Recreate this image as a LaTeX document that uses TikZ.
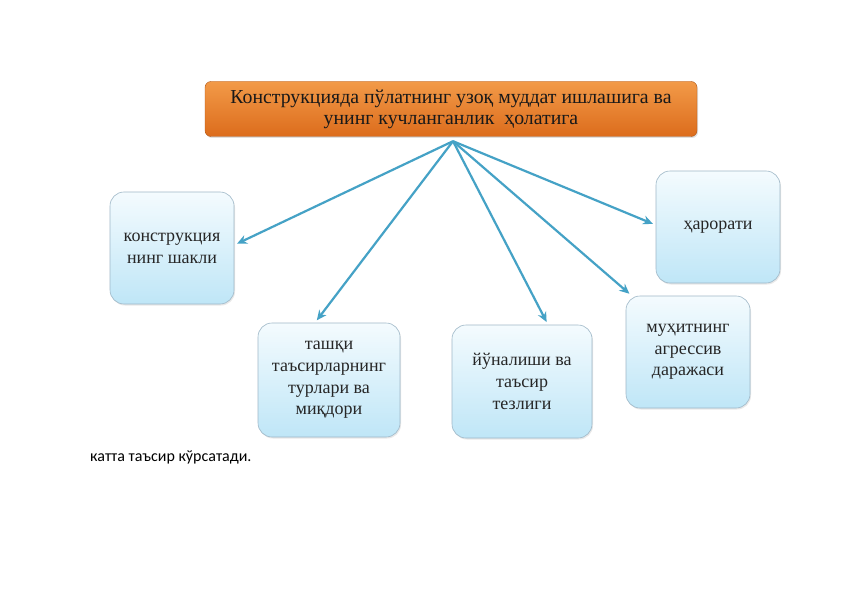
\documentclass[tikz,border=0pt]{standalone}
\usepackage{fontspec}
\setmainfont{Liberation Serif}
\newfontfamily\noteFont{Carlito}
\usetikzlibrary{arrows.meta,shadows}
\definecolor{arrowc}{HTML}{45A2C6}
\definecolor{boxedge}{HTML}{9FB8C8}
\definecolor{boxtop}{HTML}{F4FBFE}
\definecolor{boxbot}{HTML}{BFE6F7}
\definecolor{orgtop}{HTML}{F29A48}
\definecolor{orgbot}{HTML}{DC6C1C}
\tikzset{
  leafbox/.style={draw=boxedge, line width=0.6pt, rounded corners=14pt,
    top color=boxtop, bottom color=boxbot, align=center, inner sep=2pt,
    font=\fontsize{18}{21.7}\selectfont, text=black!85,
    drop shadow={opacity=0.18, shadow xshift=1pt, shadow yshift=-1.5pt}},
  headbox/.style={draw=orgbot!80!black, line width=0.4pt, rounded corners=6pt,
    top color=orgtop, bottom color=orgbot, align=center,
    font=\fontsize{19.8}{21}\selectfont, text=black!90,
    minimum width=492pt, minimum height=55pt, inner sep=0pt,
    drop shadow={opacity=0.25, shadow xshift=1pt, shadow yshift=-1.5pt}},
  link/.style={draw=arrowc, line width=2.2pt, -{Stealth[length=10pt,width=9pt]}, shorten >=3pt}
}
\begin{document}
\begin{tikzpicture}[x=1pt,y=-1pt]
\useasboundingbox (0,0) rectangle (842,596);
\fill[white] (0,0) rectangle (842,596);
\node[headbox] (top) at (451,109) {Конструкцияда пўлатнинг узоқ муддат ишлашига ва\\унинг кучланганлик \ ҳолатига};
\node[leafbox, minimum width=124pt, minimum height=112pt] (k) at (172,248) {конструкция\\нинг шакли};
\node[leafbox, minimum width=124pt, minimum height=112pt] (h) at (718,227) {ҳарорати};
\node[leafbox, minimum width=124pt, minimum height=112pt] (m) at (688,352) {муҳитнинг\\агрессив\\даражаси};
\node[leafbox, minimum width=142pt, minimum height=114pt] (t) at (329,380) {ташқи\\таъсирларнинг\\турлари ва\\миқдори};
\node[leafbox, minimum width=140pt, minimum height=113pt] (y) at (522,381.5) {йўналиши ва\\таъсир\\тезлиги};
\coordinate (o) at ([xshift=2pt,yshift=-4.5pt]top.south);
\draw[link] (o) -- ([yshift=3pt]k.east);
\draw[link] (o) -- ([xshift=-14pt]t.north);
\draw[link] (o) -- ([xshift=26pt]y.north);
\draw[link] (o) -- ([xshift=6pt]m.north west);
\draw[link] (o) -- ([yshift=2pt]h.west);
\node[anchor=west, font=\noteFont\fontsize{16}{18}\selectfont, inner sep=0pt] (note) at (90,457) {катта таъсир кўрсатади.};
\end{tikzpicture}
\end{document}
